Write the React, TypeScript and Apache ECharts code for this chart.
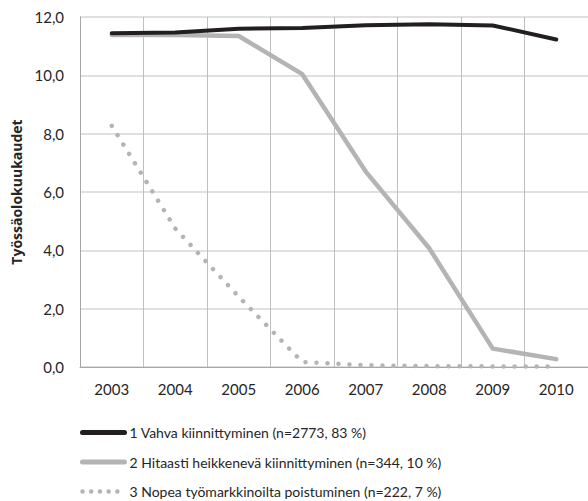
import React, { useEffect, useRef } from "react";
import * as echarts from "echarts";

const years = ["2003", "2004", "2005", "2006", "2007", "2008", "2009", "2010"];
const seriesNames = [
  "1 Vahva kiinnittyminen (n=2773, 83 %)",
  "2 Hitaasti heikkenevä kiinnittyminen (n=344, 10 %)",
  "3 Nopea työmarkkinoilta poistuminen (n=222, 7 %)",
];
const strong = [11.44, 11.47, 11.6, 11.62, 11.72, 11.75, 11.71, 11.23];
const slow = [11.38, 11.38, 11.35, 10.04, 6.7, 4.07, 0.63, 0.27];
const fast = [8.27, 4.75, 2.41, 0.17, 0.06, 0.03, 0.02, 0.02];
const yAxisName = "Työssäolokuukaudet";

export default function App() {
  const ref = useRef<HTMLDivElement>(null);
  useEffect(() => {
    document.body.style.margin = "0";
    if (!ref.current) return;
    const chart = echarts.init(ref.current, undefined, { renderer: "svg" });
    const font = "Lato, 'Open Sans', sans-serif";
    const black = "#231f20";
    const grey = "#b3b4b6";
    chart.setOption({
      animation: false,
      textStyle: { fontFamily: font },
      grid: { left: 80, right: 0, top: 17, bottom: 134, containLabel: false },
      xAxis: {
        type: "category",
        data: years,
        boundaryGap: true,
        axisLine: { show: true, lineStyle: { color: "#a6a6a6", width: 1 } },
        axisTick: { show: false },
        axisLabel: { color: "#262626", fontSize: 15, margin: 14, fontFamily: font },
        splitLine: { show: true, lineStyle: { color: "#bfbfbf", width: 1 } },
      },
      yAxis: {
        type: "value",
        min: 0,
        max: 12,
        interval: 2,
        name: yAxisName,
        nameLocation: "middle",
        nameGap: 56,
        nameRotate: 90,
        nameTextStyle: {
          fontWeight: "bold",
          fontSize: 14,
          color: "#262626",
          fontFamily: "'Open Sans', sans-serif",
        },
        axisLine: { show: true, lineStyle: { color: "#a6a6a6", width: 1 } },
        axisTick: { show: false },
        axisLabel: {
          color: "#262626",
          fontSize: 15,
          margin: 16,
          fontFamily: font,
          formatter: (v: number) => v.toFixed(1).replace(".", ","),
        },
        splitLine: { show: true, lineStyle: { color: "#d6d6d6", width: 1.5 } },
      },
      legend: {
        orient: "vertical",
        left: 80,
        top: 425.5,
        height: 80,
        padding: 0,
        itemWidth: 42,
        itemHeight: 14,
        itemGap: 15.5,
        itemStyle: { opacity: 0 },
        textStyle: { fontSize: 14, color: "#262626", fontFamily: font },
        data: [
          { name: seriesNames[0], lineStyle: { width: 5, color: black, cap: "round" } },
          { name: seriesNames[1], lineStyle: { width: 5, color: grey, cap: "round" } },
          {
            name: seriesNames[2],
            lineStyle: { width: 4.5, color: grey, cap: "round", type: [0.01, 8.7] },
          },
        ],
      },
      series: [
        {
          name: seriesNames[0],
          type: "line",
          data: strong,
          symbol: "none",
          lineStyle: { color: black, width: 4, cap: "round", join: "round" },
          itemStyle: { color: black },
          z: 3,
        },
        {
          name: seriesNames[1],
          type: "line",
          data: slow,
          symbol: "none",
          lineStyle: { color: grey, width: 4.5, cap: "round", join: "round" },
          itemStyle: { color: grey },
          z: 2,
        },
        {
          name: seriesNames[2],
          type: "line",
          data: fast,
          symbol: "none",
          lineStyle: { color: grey, width: 4.5, cap: "round", type: [0.01, 11] },
          itemStyle: { color: grey },
          z: 1,
        },
      ],
    });
    return () => chart.dispose();
  }, []);
  return <div ref={ref} style={{ width: 588, height: 501 }} />;
}
